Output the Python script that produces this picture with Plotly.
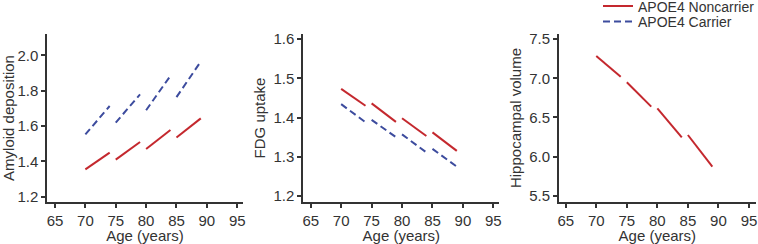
import plotly.graph_objects as go

# ---- data ----
seg_start_age = [70, 75, 80, 85]
seg_end_age = [74, 79, 84, 89]

amyloid_non_start = [1.355, 1.41, 1.47, 1.536]
amyloid_non_end = [1.45, 1.51, 1.578, 1.644]
amyloid_car_start = [1.553, 1.62, 1.69, 1.764]
amyloid_car_end = [1.714, 1.78, 1.885, 1.966]

fdg_non_start = [1.473, 1.436, 1.398, 1.362]
fdg_non_end = [1.430, 1.389, 1.353, 1.315]
fdg_car_start = [1.434, 1.394, 1.357, 1.320]
fdg_car_end = [1.388, 1.350, 1.311, 1.275]

hippo_non_start = [7.283, 6.948, 6.617, 6.277]
hippo_non_end = [7.020, 6.638, 6.248, 5.873]

x_ticks = [65, 70, 75, 80, 85, 90, 95]
panel_titles = ["Amyloid deposition", "FDG uptake", "Hippocampal volume"]
x_title = "Age (years)"
legend_names = ["APOE4 Noncarrier", "APOE4 Carrier"]

RED = "#c4282e"
BLUE = "#3d4c9e"
TXT = "#333333"
FONT = "Liberation Sans, Arial, sans-serif"
W, H = 758, 244


def segs(starts, ends):
    xs, ys = [], []
    for a0, a1, v0, v1 in zip(seg_start_age, seg_end_age, starts, ends):
        xs += [a0, a1, None]
        ys += [v0, v1, None]
    return xs, ys


fig = go.Figure()

def add(starts, ends, color, dash, axis, name, legend, show):
    xs, ys = segs(starts, ends)
    fig.add_trace(go.Scatter(
        x=xs, y=ys, mode="lines", connectgaps=False,
        line=dict(color=color, width=2, dash=dash),
        name=name, legend=legend, showlegend=show,
        xaxis="x" + axis, yaxis="y" + axis, hoverinfo="skip"))

add(amyloid_non_start, amyloid_non_end, RED, "solid", "", legend_names[0], "legend", True)
add(amyloid_car_start, amyloid_car_end, BLUE, "7px,4px", "", legend_names[1], "legend2", True)
add(fdg_non_start, fdg_non_end, RED, "solid", "2", legend_names[0], "legend", False)
add(fdg_car_start, fdg_car_end, BLUE, "7px,4px", "2", legend_names[1], "legend2", False)
add(hippo_non_start, hippo_non_end, RED, "solid", "3", legend_names[0], "legend", False)

ydom = [1 - 201.7 / H, 1 - 34.3 / H]
xdoms = [[47.3 / W, 242.7 / W], [303.3 / W, 499.3 / W], [559.0 / W, 755.7 / W]]
xranges = [[63.73, 95.9], [63.78, 95.98], [63.9, 96.1]]
yranges = [[1.172, 2.12], [1.1855, 1.612], [5.427, 7.56]]
ydticks = [0.2, 0.1, 0.5]
ystandoff = [4, 4, 4]

axcommon = dict(showline=True, linecolor=TXT, linewidth=2, ticks="outside",
                ticklen=4, tickwidth=1.5, tickcolor=TXT, showgrid=False,
                zeroline=False, automargin=False,
                tickfont=dict(size=15, color=TXT, family=FONT))

layout = dict(width=W, height=H, margin=dict(l=0, r=0, t=0, b=0, autoexpand=False),
              paper_bgcolor="white", plot_bgcolor="white",
              font=dict(family=FONT, color=TXT))

for i in range(3):
    s = "" if i == 0 else str(i + 1)
    layout["xaxis" + s] = dict(axcommon, domain=xdoms[i], range=xranges[i],
                               tickvals=x_ticks, anchor="y" + s,
                               title=dict(text=x_title, font=dict(size=15, color=TXT), standoff=11))
    layout["yaxis" + s] = dict(axcommon, domain=ydom, range=yranges[i],
                               dtick=ydticks[i], tick0=0, tickformat=".1f", anchor="x" + s,
                               title=dict(text=panel_titles[i], font=dict(size=15, color=TXT),
                                          standoff=ystandoff[i]))

leg = dict(x=598 / W, xanchor="left", yanchor="middle", bgcolor="rgba(0,0,0,0)",
           font=dict(size=14, color=TXT, family=FONT), borderwidth=0)
layout["legend"] = dict(leg, y=1 - 6.5 / H)
layout["legend2"] = dict(leg, y=1 - 22 / H)

fig.update_layout(**layout)
fig.write_html("out.html", config={"displayModeBar": False},
               post_script="document.body.style.margin='0px';")
